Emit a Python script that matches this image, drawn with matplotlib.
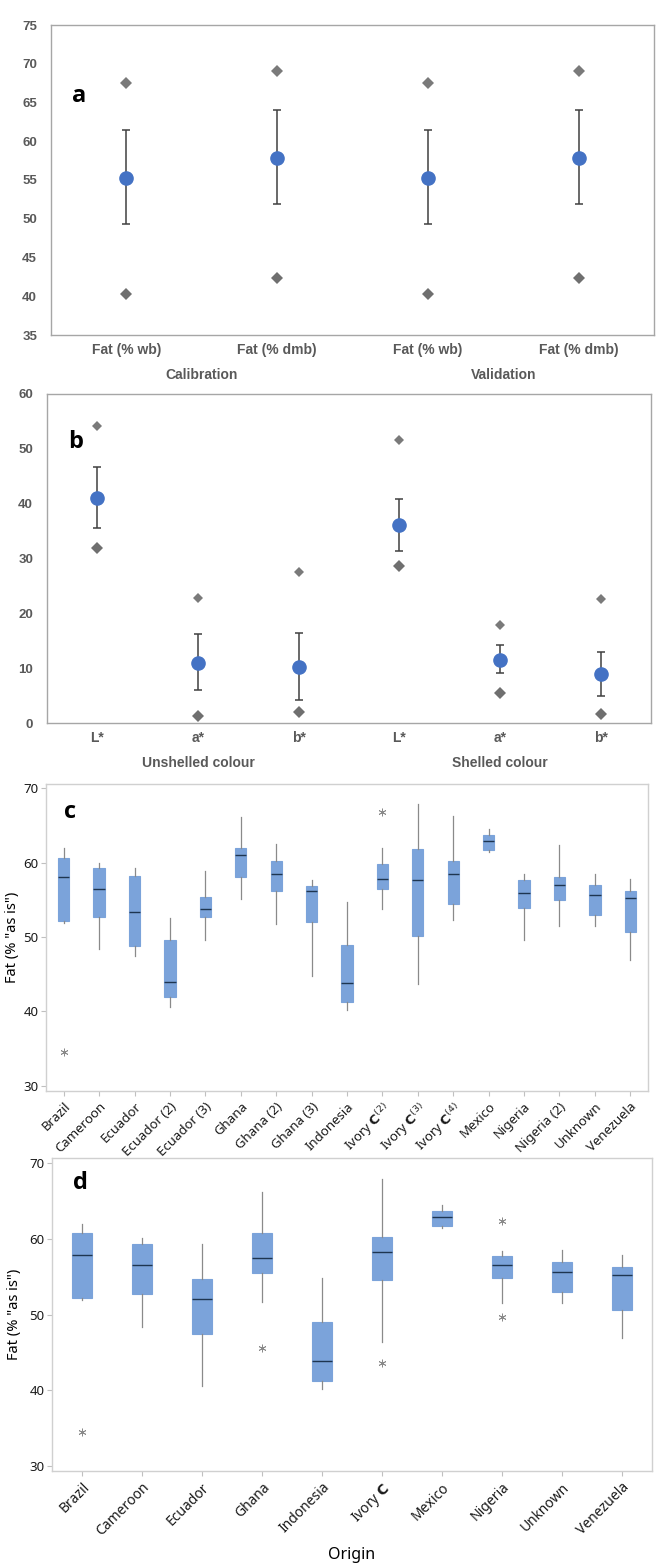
"""Four-panel figure: fat/colour summary (a, b) and fat by origin boxplots (c, d)."""
import matplotlib

matplotlib.use("Agg")
import matplotlib.pyplot as plt
import matplotlib.transforms as mtransforms

W, H = 661, 1564

# ---- panel a: mean, +/- sd, min/max ----
a_labels = ["Fat (% wb)", "Fat (% dmb)", "Fat (% wb)", "Fat (% dmb)"]
a_groups = ["Calibration", "Validation"]
a_mean = [55.3, 57.9, 55.3, 57.9]
a_lo = [49.3, 51.9, 49.3, 51.9]
a_hi = [61.4, 64.0, 61.4, 64.0]
a_min = [40.25, 42.3, 40.25, 42.3]
a_max = [67.5, 69.1, 67.5, 69.1]

# ---- panel b ----
b_labels = ["L*", "a*", "b*", "L*", "a*", "b*"]
b_groups = ["Unshelled colour", "Shelled colour"]
b_mean = [41.05, 11.0, 10.25, 36.05, 11.55, 8.95]
b_lo = [35.5, 5.95, 4.25, 31.4, 9.05, 4.9]
b_hi = [46.75, 16.15, 16.35, 40.8, 14.15, 13.0]
b_min = [31.9, 1.2, 2.05, 28.65, 5.4, 1.6]
b_max = [54.1, 22.75, 27.6, 51.55, 17.8, 22.65]

# ---- panel c: fat by origin (batches) ----
c_labels = ["Brazil", "Cameroon", "Ecuador", "Ecuador (2)", "Ecuador (3)", "Ghana",
            "Ghana (2)", "Ghana (3)", "Indonesia", r"Ivory $\mathbf{C}^{(2)}$",
            r"Ivory $\mathbf{C}^{(3)}$", r"Ivory $\mathbf{C}^{(4)}$", "Mexico",
            "Nigeria", "Nigeria (2)", "Unknown", "Venezuela"]
c_whislo = [51.9, 48.4, 47.5, 40.6, 49.6, 55.1, 51.7, 44.7, 40.2, 53.7, 43.7, 52.3, 61.35, 49.6, 51.5, 51.5, 46.95]
c_q1 = [52.15, 52.65, 48.8, 41.9, 52.65, 58.0, 56.15, 52.0, 41.2, 56.4, 50.1, 54.45, 61.65, 53.95, 55.0, 52.95, 50.65]
c_med = [58.0, 56.4, 53.35, 44.0, 53.7, 61.05, 58.5, 56.15, 43.8, 57.8, 57.6, 58.5, 62.85, 55.9, 56.95, 55.65, 55.2]
c_q3 = [60.65, 59.2, 58.2, 49.55, 55.35, 61.9, 60.2, 56.8, 48.95, 59.8, 61.85, 60.2, 63.7, 57.65, 58.05, 56.95, 56.2]
c_whishi = [61.9, 60.0, 59.3, 52.5, 58.9, 66.15, 62.55, 57.65, 54.75, 62.0, 67.9, 66.25, 64.5, 58.4, 62.4, 58.5, 57.85]
c_fliers = [[34.5], [], [], [], [], [], [], [], [], [66.8], [], [], [], [], [], [], []]

# ---- panel d: fat by origin ----
d_labels = ["Brazil", "Cameroon", "Ecuador", "Ghana", "Indonesia", r"Ivory $\mathbf{C}$",
            "Mexico", "Nigeria", "Unknown", "Venezuela"]
d_whislo = [51.9, 48.4, 40.6, 51.7, 40.2, 46.35, 61.4, 51.6, 51.6, 46.95]
d_q1 = [52.2, 52.75, 47.45, 55.5, 41.3, 54.6, 61.75, 54.85, 53.0, 50.65]
d_med = [57.95, 56.5, 52.1, 57.45, 43.85, 58.25, 62.85, 56.5, 55.65, 55.2]
d_q3 = [60.75, 59.3, 54.65, 60.85, 49.0, 60.2, 63.7, 57.7, 56.95, 56.25]
d_whishi = [62.0, 60.1, 59.35, 66.2, 54.85, 67.95, 64.5, 58.4, 58.5, 57.9]
d_fliers = [[34.55], [], [], [45.65], [], [43.65], [], [62.4, 49.7], [], []]

NARROW = ["Liberation Sans Narrow", "Liberation Sans", "DejaVu Sans"]
SANS = ["Noto Sans", "DejaVu Sans"]
GREY_TXT = "#595959"

fig = plt.figure(figsize=(W / 100, H / 100), dpi=100)


def add_axes_px(left, top, right, bottom):
    return fig.add_axes([left / W, 1 - bottom / H, (right - left) / W, (bottom - top) / H])


def summary_panel(ax, labels, groups, mean, lo, hi, vmin, vmax, ylim, step, letter, letter_xy, small_max):
    x = list(range(len(labels)))
    yerr = [[m - l for m, l in zip(mean, lo)], [h - m for m, h in zip(mean, hi)]]
    ax.errorbar(x, mean, yerr=yerr, fmt="none", ecolor="#404040", elinewidth=1.1,
                capsize=2.6, capthick=1.1, zorder=2)
    ax.plot(x, mean, "o", color="#4472C4", ms=9.5, zorder=3)
    ax.plot(x, vmin, "D", color="#6f6f6f", ms=6.0, mew=0, zorder=3)
    ax.plot(x, vmax, "D", color="#7a7a7a", ms=4.8 if small_max else 6.0, mew=0, zorder=3)
    ax.set_xlim(-0.5, len(labels) - 0.5)
    ax.set_ylim(*ylim)
    ax.set_yticks(range(int(ylim[0]), int(ylim[1]) + 1, step))
    ax.set_xticks(x, labels)
    for s in ax.spines.values():
        s.set_color("#a6a6a6")
        s.set_linewidth(1.0)
    ax.tick_params(length=0, colors=GREY_TXT)
    ax.tick_params(axis="y", pad=10)
    ax.tick_params(axis="x", pad=6)
    for t in ax.get_yticklabels():
        t.set_family(NARROW); t.set_weight("bold"); t.set_fontsize(9.5)
    for t in ax.get_xticklabels():
        t.set_family(NARROW); t.set_weight("bold"); t.set_fontsize(10)
    trans = mtransforms.blended_transform_factory(ax.transData, ax.transAxes)
    per = len(labels) // len(groups)
    for i, g in enumerate(groups):
        gx = i * per + (per - 1) / 2
        ax.annotate(g, xy=(gx, 0), xycoords=trans, xytext=(0, -29), textcoords="offset points",
                    ha="center", va="center", family=NARROW, weight="bold", fontsize=10,
                    color=GREY_TXT)
    ax.text(*letter_xy, letter, transform=ax.transAxes, family=["Open Sans", "DejaVu Sans"],
            weight="bold", fontsize=17, ha="left", va="center")


def box_panel(ax, labels, whislo, q1, med, q3, whishi, fliers, ylim, letter, letter_xy, fs, ylab_x):
    stats = [dict(whislo=a, q1=b, med=c, q3=d, whishi=e, fliers=f)
             for a, b, c, d, e, f in zip(whislo, q1, med, q3, whishi, fliers)]
    ax.bxp(stats, positions=range(len(labels)), widths=0.32, showcaps=False, patch_artist=True,
           boxprops=dict(facecolor="#7BA3DA", edgecolor="#7BA3DA", linewidth=0.8),
           medianprops=dict(color="#1e3550", linewidth=1.0),
           whiskerprops=dict(color="#8a8a8a", linewidth=0.9),
           flierprops=dict(marker=(6, 2, 0), markersize=5.5, markeredgecolor="#8a8a8a",
                           markeredgewidth=0.6, linestyle="none"))
    ax.set_xlim(-0.5, len(labels) - 0.5)
    ax.set_ylim(*ylim)
    ax.set_yticks([30, 40, 50, 60, 70])
    ax.set_xticks(range(len(labels)), labels, rotation=45, ha="right", rotation_mode="anchor")
    for s in ax.spines.values():
        s.set_color("#d0d0d0")
        s.set_linewidth(1.0)
    ax.tick_params(length=3.5, width=0.8, color="#c0c0c0", labelcolor="#1a1a1a")
    ax.tick_params(axis="y", pad=2, labelsize=9.5)
    ax.tick_params(axis="x", pad=3, labelsize=fs)
    for t in ax.get_yticklabels() + ax.get_xticklabels():
        t.set_family(SANS)
    ax.set_ylabel('Fat (% "as is")', family=SANS, fontsize=10.5, va="center")
    ax.yaxis.set_label_coords(ylab_x, 0.5)
    ax.text(*letter_xy, letter, transform=ax.transAxes, family=["Open Sans", "DejaVu Sans"],
            weight="bold", fontsize=17, ha="left", va="center")


ax_a = add_axes_px(51, 25, 654, 335)
summary_panel(ax_a, a_labels, a_groups, a_mean, a_lo, a_hi, a_min, a_max, (35, 75), 5,
              "a", (0.035, 0.77), False)

ax_b = add_axes_px(47, 394, 651, 723)
summary_panel(ax_b, b_labels, b_groups, b_mean, b_lo, b_hi, b_min, b_max, (0, 60), 10,
              "b", (0.035, 0.855), True)

ax_c = add_axes_px(46, 784, 648, 1091)
box_panel(ax_c, c_labels, c_whislo, c_q1, c_med, c_q3, c_whishi, c_fliers, (29.3, 70.55),
          "c", (0.03, 0.91), 9.5, -0.056)

ax_d = add_axes_px(52, 1158, 652, 1471)
box_panel(ax_d, d_labels, d_whislo, d_q1, d_med, d_q3, d_whishi, d_fliers, (29.35, 70.7),
          "d", (0.035, 0.92), 10, -0.062)
ax_d.set_xlabel("Origin", family=SANS, fontsize=11.5, labelpad=6)

fig.savefig("out.png", dpi=100)
